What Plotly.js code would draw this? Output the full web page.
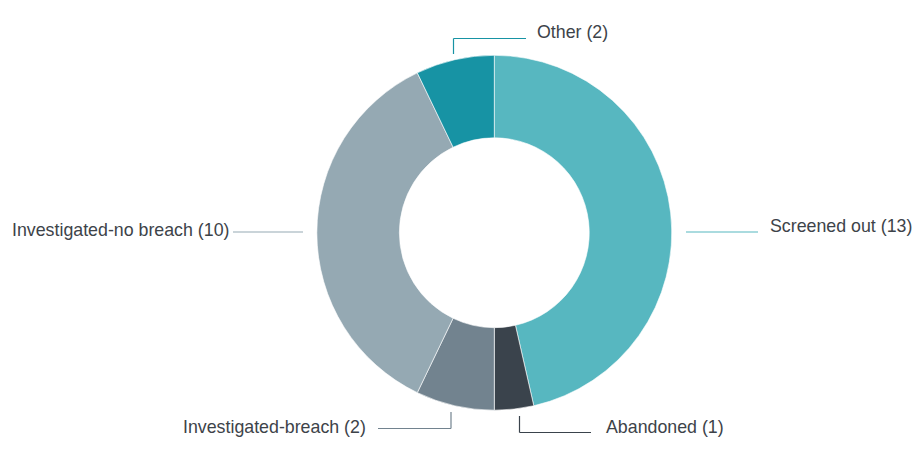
<!DOCTYPE html>
<html>
<head>
<meta charset="utf-8">
<script src="https://cdn.plot.ly/plotly-3.0.1.min.js"></script>
<style>html,body{margin:0;padding:0;background:#fff;}#chart{width:918px;height:467px;}</style>
</head>
<body>
<div id="chart"></div>
<script>
const categories = ["Screened out", "Abandoned", "Investigated-breach", "Investigated-no breach", "Other"];
const values = [13, 1, 2, 10, 2];
const colors = ["#57b7c0", "#3a434c", "#72838f", "#95a9b3", "#1793a4"];

const W = 918, H = 467;
const px = x => x / W;
const py = y => 1 - y / H;

const labels = categories.map((c, i) => c + " (" + values[i] + ")");

// label placement (pixels): text anchor point and leader polyline
const place = [
  {tx: 767.5, ty: 226, anchor: "left",  pts: [[686, 232], [758, 232]]},
  {tx: 604, ty: 426.5, anchor: "left", pts: [[519.5, 416], [519.5, 432.5], [591, 432.5]]},
  {tx: 367.5, ty: 426.5, anchor: "right", pts: [[451, 412], [451, 428.5], [378, 428.5]]},
  {tx: 231.5, ty: 230, anchor: "right", pts: [[303, 232], [233, 232]]},
  {tx: 534.5, ty: 32, anchor: "left",  pts: [[453.5, 54], [453.5, 38.5], [526, 38.5]]}
];

const annotations = labels.map((t, i) => ({
  text: t, xref: "paper", yref: "paper",
  x: px(place[i].tx), y: py(place[i].ty),
  xanchor: place[i].anchor, yanchor: "middle",
  showarrow: false,
  font: {family: "Liberation Sans, Arial, sans-serif", size: 17.8, color: "#3d4349"}
}));

const shapes = [];
place.forEach((p, i) => {
  for (let k = 0; k < p.pts.length - 1; k++) {
    shapes.push({
      type: "line", xref: "paper", yref: "paper",
      x0: px(p.pts[k][0]), y0: py(p.pts[k][1]),
      x1: px(p.pts[k + 1][0]), y1: py(p.pts[k + 1][1]),
      line: {color: colors[i], width: 1.2}
    });
  }
});

const trace = {
  type: "pie",
  labels: categories,
  values: values,
  hole: 0.535,
  sort: false,
  direction: "clockwise",
  rotation: 0,
  textinfo: "none",
  hoverinfo: "label+value",
  marker: {colors: colors, line: {color: "#ffffff", width: 0.6}},
  domain: {x: [px(494.3 - 300), px(494.3 + 300)], y: [py(410.2), py(55.3)]},
  showlegend: false
};

const layout = {
  width: W, height: H,
  margin: {l: 0, r: 0, t: 0, b: 0},
  paper_bgcolor: "#ffffff",
  plot_bgcolor: "#ffffff",
  showlegend: false,
  annotations: annotations,
  shapes: shapes
};

Plotly.newPlot("chart", [trace], layout, {displayModeBar: false, staticPlot: true});
</script>
</body>
</html>
